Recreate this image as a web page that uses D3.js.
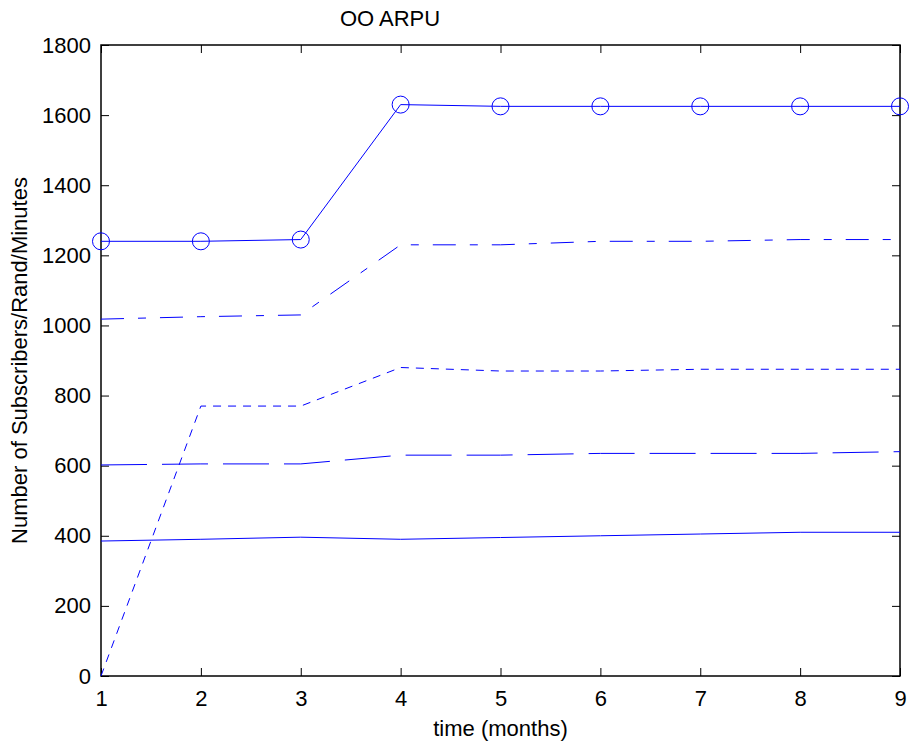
<!DOCTYPE html>
<html>
<head>
<meta charset="utf-8">
<script src="https://cdn.jsdelivr.net/npm/d3@7"></script>
<style>
  body { margin: 0; background: #fff; }
  text { font-family: "Liberation Sans", Arial, sans-serif; }
</style>
</head>
<body>
<div id="chart"></div>
<script>
const months = [1, 2, 3, 4, 5, 6, 7, 8, 9];
const xTicks = [1, 2, 3, 4, 5, 6, 7, 8, 9];
const yTicks = [0, 200, 400, 600, 800, 1000, 1200, 1400, 1600, 1800];

const circleSeries = [1240, 1240, 1245, 1630, 1625, 1625, 1625, 1625, 1625];
const dashDotSeries = [1018, 1025, 1030, 1230, 1230, 1240, 1240, 1245, 1245];
const shortDashSeries = [0, 770, 770, 880, 870, 870, 875, 875, 875];
const longDashSeries = [602, 605, 605, 630, 630, 635, 635, 635, 640];
const solidSeries = [385, 390, 396, 390, 395, 400, 405, 410, 410];

const series = [
    { name: 'circle', values: circleSeries, dash: null, marker: true },
    { name: 'dashdot', values: dashDotSeries, dash: '23,14,8,14', marker: false },
    { name: 'shortdash', values: shortDashSeries, dash: '8,7', marker: false },
    { name: 'longdash', values: longDashSeries, dash: '46,15', marker: false },
    { name: 'solid', values: solidSeries, dash: null, marker: false }
];

const margin = { top: 45, right: 10, bottom: 71, left: 101 },
    width = 910 - margin.left - margin.right,
    height = 747 - margin.top - margin.bottom;

const svg = d3.select('#chart').append('svg')
    .attr('width', 910)
    .attr('height', 747);

const g = svg.append('g')
    .attr('transform', `translate(${margin.left},${margin.top})`);

const x = d3.scaleLinear().domain([1, 9]).range([0, width]);
const y = d3.scaleLinear().domain([0, 1800]).range([height, 0]);

const fontSize = 22;

// axes with inward ticks, box style
const axisStyle = sel => {
    sel.select('.domain').remove();
    sel.selectAll('line').attr('stroke', '#000');
    sel.selectAll('text').attr('font-size', fontSize).attr('fill', '#000');
};

g.append('g')
    .attr('transform', `translate(0,${height})`)
    .call(d3.axisBottom(x).tickValues(xTicks).tickFormat(d3.format('d')).tickSize(-8).tickPadding(14))
    .call(axisStyle);

g.append('g')
    .call(d3.axisTop(x).tickValues(xTicks).tickFormat('').tickSize(-8))
    .call(axisStyle);

g.append('g')
    .call(d3.axisLeft(y).tickValues(yTicks).tickFormat(d3.format('d')).tickSize(-8).tickPadding(10))
    .call(axisStyle);

g.append('g')
    .attr('transform', `translate(${width},0)`)
    .call(d3.axisRight(y).tickValues(yTicks).tickFormat('').tickSize(-8))
    .call(axisStyle);

g.selectAll('.tick text').attr('font-family', '"Liberation Sans", Arial, sans-serif');

g.append('rect')
    .attr('width', width)
    .attr('height', height)
    .attr('fill', 'none')
    .attr('stroke', '#000')
    .attr('stroke-width', 1.5);

const line = d3.line()
    .x((d, i) => x(months[i]))
    .y(d => y(d));

const lines = g.selectAll('.series')
    .data(series)
    .join('g')
    .attr('class', 'series');

lines.append('path')
    .attr('fill', 'none')
    .attr('stroke', '#0000ff')
    .attr('stroke-width', 1)
    .attr('stroke-dasharray', d => d.dash)
    .attr('d', d => line(d.values));

lines.filter(d => d.marker)
    .selectAll('circle')
    .data(d => d.values)
    .join('circle')
    .attr('cx', (d, i) => x(months[i]))
    .attr('cy', d => y(d))
    .attr('r', 8.5)
    .attr('fill', 'none')
    .attr('stroke', '#0000ff')
    .attr('stroke-width', 1);

svg.append('text')
    .attr('x', 390)
    .attr('y', 26)
    .attr('text-anchor', 'middle')
    .attr('font-size', fontSize)
    .text('OO ARPU');

svg.append('text')
    .attr('x', margin.left + width / 2)
    .attr('y', 736)
    .attr('text-anchor', 'middle')
    .attr('font-size', fontSize)
    .text('time (months)');

svg.append('text')
    .attr('transform', `translate(27,${margin.top + height / 2}) rotate(-90)`)
    .attr('text-anchor', 'middle')
    .attr('font-size', fontSize)
    .text('Number of Subscribers/Rand/Minutes');
</script>
</body>
</html>
